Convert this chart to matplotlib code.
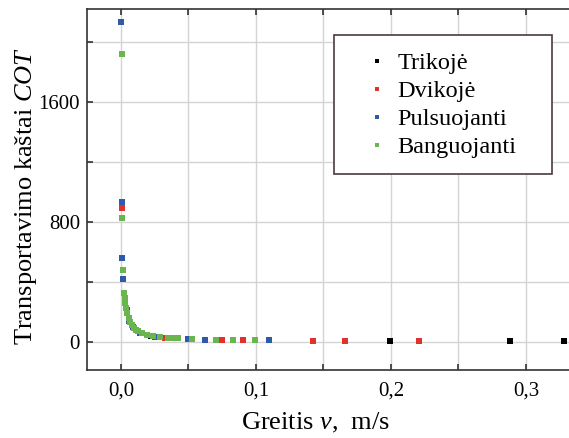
import numpy as np
import matplotlib.pyplot as plt
from matplotlib.ticker import MultipleLocator, FuncFormatter
from matplotlib.patches import Rectangle

plt.rcParams['font.family'] = ['Liberation Serif', 'DejaVu Serif']
plt.rcParams['mathtext.fontset'] = 'custom'
plt.rcParams['mathtext.it'] = 'Liberation Serif:italic'
plt.rcParams['mathtext.rm'] = 'Liberation Serif'

# greitis v (m/s) ir transportavimo kastai COT
trik_v = [0.0225, 0.199, 0.288, 0.328]
trik_cot = [40, 5, 4, 3]

dvik_v = [0.0007, 0.0330, 0.0750, 0.0906, 0.142, 0.166, 0.221]
dvik_cot = [889, 27, 11, 9, 6, 5, 4]

puls_v = [0.0, 0.0007, 0.0012, 0.0019, 0.0032, 0.0044, 0.0062, 0.0090,
          0.0143, 0.0255, 0.0495, 0.0620, 0.110]
puls_cot = [2129, 933, 560, 418, 267, 211, 140, 98, 60, 33, 17, 14, 8]

bang_v = [0.0008, 0.0012, 0.0018, 0.0027, 0.0030, 0.0034, 0.0040, 0.0047,
          0.0057, 0.0068, 0.0082, 0.0095, 0.0110, 0.0130, 0.0160, 0.0193,
          0.0240, 0.0290, 0.0350, 0.0390, 0.0420, 0.0527, 0.0707, 0.0830,
          0.0992]
bang_cot = [1916, 827, 476, 323, 290, 260, 225, 190, 160, 130, 108, 92, 80,
            68, 55, 45, 37, 30, 25, 22, 21, 17, 12, 11, 9]

fig = plt.figure(figsize=(5.69, 4.38), dpi=100)
# axes run past the right edge of the figure
ax = fig.add_axes([0.153, 0.155, 0.89, 0.825])

ms = 4.2
ax.plot(trik_v, trik_cot, 's', color='black', ms=ms, mew=0, label='Trikojė', zorder=3)
ax.plot(dvik_v, dvik_cot, 's', color='#e3302a', ms=ms, mew=0, label='Dvikojė', zorder=3)
ax.plot(puls_v, puls_cot, 's', color='#2f5aa8', ms=ms, mew=0, label='Pulsuojanti', zorder=3)
ax.plot(bang_v, bang_cot, 's', color='#6ab54e', ms=ms, mew=0, label='Banguojanti', zorder=3)

ax.set_xlim(-0.025, 0.35)
ax.set_ylim(-190, 2220)

ax.xaxis.set_major_locator(MultipleLocator(0.1))
ax.xaxis.set_minor_locator(MultipleLocator(0.05))
ax.yaxis.set_major_locator(MultipleLocator(800))
ax.yaxis.set_minor_locator(MultipleLocator(400))
ax.xaxis.set_major_formatter(FuncFormatter(lambda x, p: f'{x:.1f}'.replace('.', ',')))
ax.yaxis.set_major_formatter(FuncFormatter(lambda y, p: f'{y:.0f}'))

ax.grid(True, which='both', color='#d4d4d4', lw=1.0, zorder=0)
ax.set_axisbelow(True)
ax.tick_params(which='both', direction='in', top=True, right=True,
               length=4, width=1.2, color='#333333', labelsize=15)
ax.tick_params(axis='y', pad=5)
ax.tick_params(axis='x', pad=8)
for s in ax.spines.values():
    s.set_color('#333333')
    s.set_linewidth(1.2)

ax.set_xlabel('Greitis $\\mathit{v}$,  m/s', fontsize=19, va='top')
ax.xaxis.set_label_coords(0.452, -0.112)
ax.set_ylabel('Transportavimo kaštai $\\mathit{COT}$', fontsize=19)
ax.yaxis.set_label_coords(-0.094, 0.483)

# legend box
ax.add_patch(Rectangle((0.488, 0.543), 0.431, 0.385, transform=ax.transAxes,
                       facecolor='white', edgecolor='#4a3b3b', lw=1.2, zorder=4))
leg = ax.legend(loc='upper left', bbox_to_anchor=(0.548, 0.879), fontsize=17.5,
                frameon=False, markerscale=0.8, handlelength=1.0,
                handletextpad=0.35, borderpad=0, labelspacing=0.24,
                borderaxespad=0)
leg.set_zorder(5)

fig.savefig('out.png', dpi=100)
